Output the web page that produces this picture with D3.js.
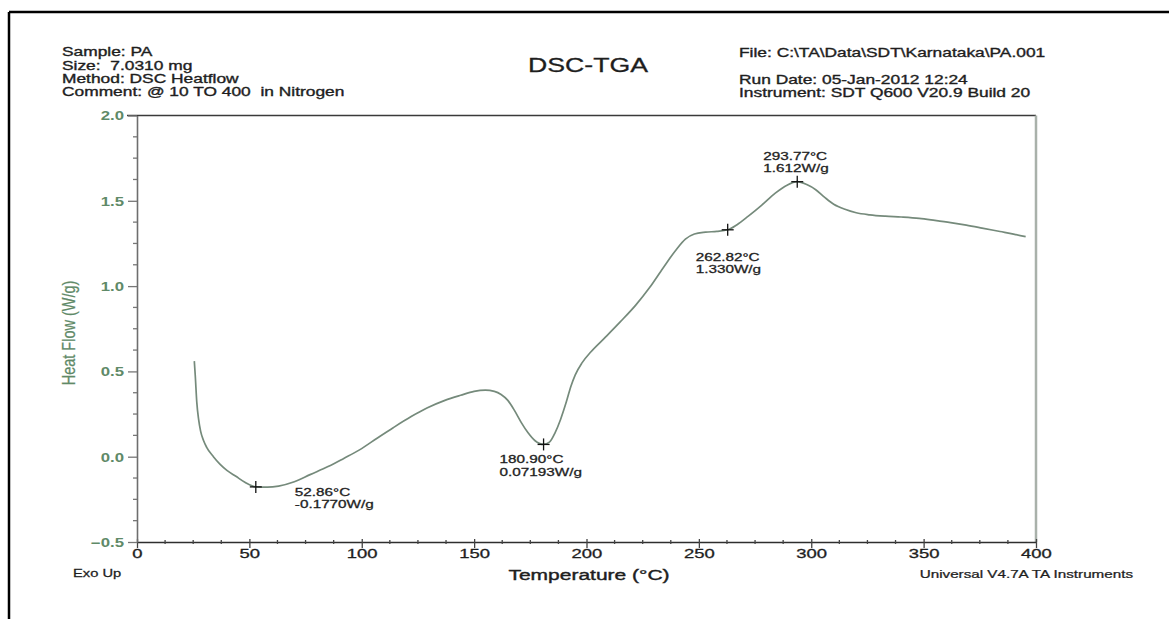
<!DOCTYPE html>
<html><head><meta charset="utf-8">
<script src="https://cdn.jsdelivr.net/npm/d3@7"></script>
<style>body{margin:0;background:#fff}svg{display:block}svg text{white-space:pre}</style>
</head><body>
<svg id="chart" width="1169" height="619"></svg>
<script>
// DSC heat-flow trace, temperature (°C) vs heat flow (W/g)
const temps = [25.5, 25.9, 26.6, 27.4, 28.3, 29.6, 31.0, 34.0, 37, 40, 44, 48, 52.86, 58, 63, 70, 77, 85, 92, 99,
  107, 114, 122, 129, 137, 144, 150, 155, 159, 162, 165, 168, 171, 174, 177, 180.90, 183.5, 186, 188.5, 191,
  193, 195, 198, 202, 208, 215, 222, 228, 234, 240, 244, 248, 253, 258, 262.82, 267, 272, 278, 284, 289,
  293.77, 298, 302, 306, 310, 315, 320, 326, 333, 340, 348, 355, 362, 369, 376, 384, 390, 395.4];
const heatFlow = [0.56, 0.48, 0.32, 0.22, 0.15, 0.095, 0.055, 0.0, -0.045, -0.08, -0.115, -0.150, -0.177, -0.178, -0.172, -0.147, -0.105, -0.058, -0.01, 0.04,
  0.11, 0.17, 0.235, 0.285, 0.33, 0.36, 0.383, 0.39, 0.383, 0.365, 0.33, 0.27, 0.2, 0.14, 0.095, 0.07193, 0.085, 0.14, 0.22, 0.32,
  0.41, 0.48, 0.55, 0.615, 0.695, 0.79, 0.89, 0.99, 1.105, 1.215, 1.275, 1.305, 1.316, 1.321, 1.330, 1.36, 1.41, 1.475, 1.545, 1.59,
  1.612, 1.595, 1.565, 1.52, 1.48, 1.45, 1.43, 1.418, 1.41, 1.405, 1.397, 1.385, 1.372, 1.357, 1.34, 1.32, 1.305, 1.29];

const xTicks = [0, 50, 100, 150, 200, 250, 300, 350, 400];
const yTicks = [-0.5, 0.0, 0.5, 1.0, 1.5, 2.0];

const peakTemps = [52.86, 180.90, 262.82, 293.77];
const peakFlows = [-0.1770, 0.07193, 1.330, 1.612];
const peakTempLabels = ["52.86°C", "180.90°C", "262.82°C", "293.77°C"];
const peakFlowLabels = ["-0.1770W/g", "0.07193W/g", "1.330W/g", "1.612W/g"];
// label offsets from each marker (dx, dy of first line baseline)
const peakLabelOffsets = [[39, 9], [-44, 19], [-32, 31], [-34, -22]];

const headerLeft = ["Sample: PA", "Size:  7.0310 mg", "Method: DSC Heatflow", "Comment: @ 10 TO 400  in Nitrogen"];
const headerRight = ["File: C:\\TA\\Data\\SDT\\Karnataka\\PA.001", "Run Date: 05-Jan-2012 12:24", "Instrument: SDT Q600 V20.9 Build 20"];

const svg = d3.select("#chart");
const font = "'Liberation Sans', Arial, sans-serif";
const green = "#5f8a68";
const ink = "#1e1e1e";

const x = d3.scaleLinear().domain([0, 400]).range([137, 1036]);
const y = d3.scaleLinear().domain([-0.5, 2.0]).range([542, 115.5]);

// text printed with a horizontally widened face
function stretchedText(g, tx, ty, str, size, opts = {}) {
  const sx = opts.sx || 1.38;
  return g.append("text")
    .attr("transform", `translate(${tx},${ty}) scale(${sx},1)` + (opts.rotate ? ` rotate(${opts.rotate})` : ""))
    .attr("font-family", font)
    .attr("font-size", size)
    .attr("font-weight", opts.weight || "normal")
    .attr("text-anchor", opts.anchor || "start")
    .attr("fill", opts.fill || ink)
    .attr("stroke", opts.fill || ink)
    .attr("stroke-width", opts.sw == null ? 0.35 : opts.sw)
    .text(str);
}

// page frame
svg.append("line").attr("x1", 9).attr("x2", 1169).attr("y1", 12).attr("y2", 12).attr("stroke", "#000").attr("stroke-width", 2.5);
svg.append("line").attr("x1", 9).attr("x2", 9).attr("y1", 12).attr("y2", 619).attr("stroke", "#000").attr("stroke-width", 2.5);

// header block
const hl = [56, 70, 83, 96];
headerLeft.forEach((s, i) => stretchedText(svg, 62, hl[i], s, 12.5, { sx: 1.39 }));
const hr = [57, 84, 96.5];
headerRight.forEach((s, i) => stretchedText(svg, 739, hr[i], s, 12.5, { sx: 1.39 }));
stretchedText(svg, 588, 72, "DSC-TGA", 21, { anchor: "middle", sw: 0.3, sx: 1.27 });

// plot frame: top and right edges
svg.append("line").attr("x1", 127).attr("x2", 1036).attr("y1", y(2.0)).attr("y2", y(2.0)).attr("stroke", "#3a3a3a").attr("stroke-width", 1.5);
svg.append("line").attr("x1", 1036).attr("x2", 1036).attr("y1", y(2.0)).attr("y2", y(-0.5)).attr("stroke", "#a9b1aa").attr("stroke-width", 2.5);

// x axis
const xSX = 1.42;
const xAxis = d3.axisBottom(x).tickValues(xTicks).tickSize(6).tickSizeOuter(0).tickFormat(d3.format("d"));
const gx = svg.append("g").attr("transform", `translate(0,${y(-0.5)})`).call(xAxis);
gx.select(".domain").attr("stroke", "#2e2e2e").attr("stroke-width", 1.5);
gx.selectAll(".tick line").attr("stroke", "#444").attr("stroke-width", 1.3).attr("y1", -3);
gx.selectAll(".tick text")
  .attr("font-family", font).attr("font-size", 13).attr("fill", ink)
  .attr("stroke", ink).attr("stroke-width", 0.3)
  .attr("y", 16).attr("dy", 0)
  .attr("transform", `scale(${xSX},1)`);
svg.append("g").selectAll("line").data(d3.range(0, 400, 12.5).filter(v => v % 50 !== 0)).join("line")
  .attr("x1", d => x(d)).attr("x2", d => x(d)).attr("y1", y(-0.5) - 2).attr("y2", y(-0.5) + 2)
  .attr("stroke", "#444").attr("stroke-width", 1.3);

// y axis
const ySX = 1.4;
const yAxis = d3.axisLeft(y).tickValues(yTicks).tickSize(9).tickSizeOuter(0).tickFormat(d3.format(".1f"));
const gy = svg.append("g").attr("transform", `translate(${x(0)},0)`).call(yAxis);
gy.select(".domain").attr("stroke", "#6e6e6e").attr("stroke-width", 1.6);
gy.selectAll(".tick line").attr("stroke", "#777").attr("stroke-width", 1.3);
gy.selectAll(".tick text")
  .attr("font-family", font).attr("font-size", 12).attr("font-weight", "bold").attr("fill", green)
  .attr("x", -13 / ySX).attr("dy", "0.36em")
  .attr("transform", `scale(${ySX},1)`);
svg.append("g").selectAll("line").data(d3.range(-0.5, 2.0, 0.125).filter(v => Math.abs(v * 2 - Math.round(v * 2)) > 1e-9)).join("line")
  .attr("x1", x(0) - 4).attr("x2", x(0)).attr("y1", d => y(d)).attr("y2", d => y(d))
  .attr("stroke", "#777").attr("stroke-width", 1.3);

// axis titles and footer
stretchedText(svg, 75, 333, "Heat Flow (W/g)", 14.5, { anchor: "middle", rotate: -90, fill: green, sw: 0.2, sx: 1.27 });
stretchedText(svg, 589, 580, "Temperature (°C)", 15, { anchor: "middle", sw: 0.4, sx: 1.4 });
stretchedText(svg, 73, 577, "Exo Up", 10.5, { sw: 0.25, sx: 1.4 });
stretchedText(svg, 1133, 578, "Universal V4.7A TA Instruments", 10.5, { anchor: "end", sw: 0.25, sx: 1.45 });

// heat-flow curve
const pts = temps.map((t, i) => [t, heatFlow[i]]);
const line = d3.line().x(d => x(d[0])).y(d => y(d[1])).curve(d3.curveMonotoneX);
svg.append("path").datum(pts).attr("d", line)
  .attr("fill", "none").attr("stroke", "#758a7b").attr("stroke-width", 1.7).attr("stroke-linejoin", "round");

// marked peaks
peakTemps.forEach((t, i) => {
  const cx = x(t), cy = y(peakFlows[i]);
  const m = svg.append("g").attr("stroke", "#111").attr("stroke-width", 1.3);
  m.append("line").attr("x1", cx - 6).attr("x2", cx + 6).attr("y1", cy).attr("y2", cy);
  m.append("line").attr("x1", cx).attr("x2", cx).attr("y1", cy - 6).attr("y2", cy + 6);
  const [dx, dy] = peakLabelOffsets[i];
  stretchedText(svg, cx + dx, cy + dy, peakTempLabels[i], 11.5, { sw: 0.3, sx: 1.33 });
  stretchedText(svg, cx + dx, cy + dy + 12.5, peakFlowLabels[i], 11.5, { sw: 0.3, sx: 1.33 });
});
</script>
</body></html>
